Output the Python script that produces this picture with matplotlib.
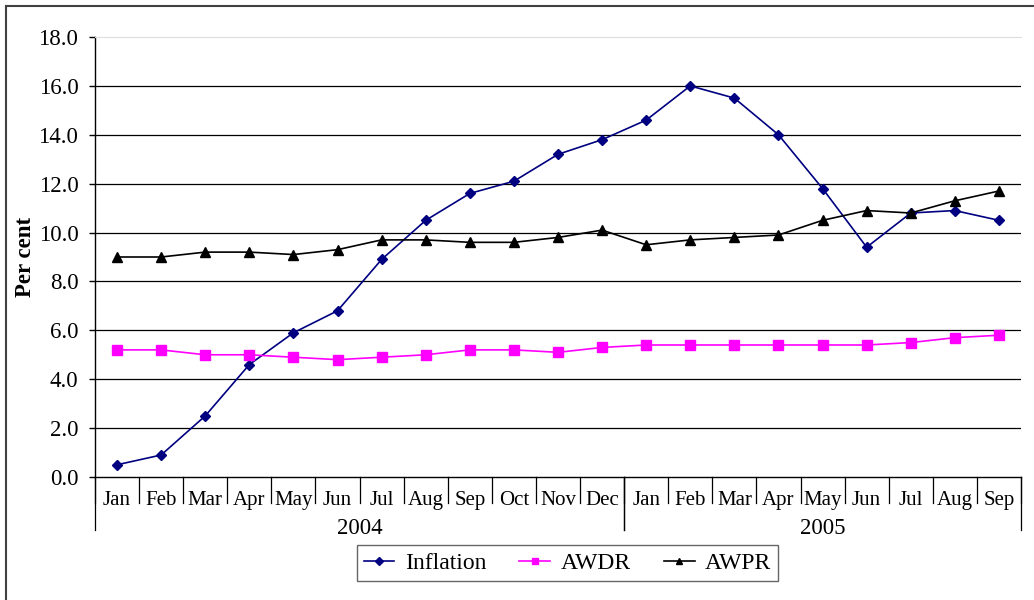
import matplotlib.pyplot as plt
from matplotlib.lines import Line2D

# Datos
months = ['Jan', 'Feb', 'Mar', 'Apr', 'May', 'Jun', 'Jul', 'Aug', 'Sep', 'Oct', 'Nov', 'Dec',
          'Jan', 'Feb', 'Mar', 'Apr', 'May', 'Jun', 'Jul', 'Aug', 'Sep']
years = ['2004', '2005']
year_months = [12, 9]

inflation = [0.5, 0.9, 2.5, 4.6, 5.9, 6.8, 8.9, 10.5, 11.6, 12.1, 13.2, 13.8,
             14.6, 16.0, 15.5, 14.0, 11.8, 9.4, 10.8, 10.9, 10.5]
awdr = [5.2, 5.2, 5.0, 5.0, 4.9, 4.8, 4.9, 5.0, 5.2, 5.2, 5.1, 5.3,
        5.4, 5.4, 5.4, 5.4, 5.4, 5.4, 5.5, 5.7, 5.8]
awpr = [9.0, 9.0, 9.2, 9.2, 9.1, 9.3, 9.7, 9.7, 9.6, 9.6, 9.8, 10.1,
        9.5, 9.7, 9.8, 9.9, 10.5, 10.9, 10.8, 11.3, 11.7]

plt.rcParams['font.family'] = ['Liberation Serif', 'DejaVu Serif']

fig = plt.figure(figsize=(10.34, 6.0), dpi=100)
ax = fig.add_axes([95 / 1034, 1 - 477 / 600, 926 / 1034, 440 / 600])

x = list(range(len(months)))

# Líneas de rejilla horizontales
for v in range(2, 18, 2):
    ax.axhline(v, color='black', lw=0.9, zorder=1)

ax.plot(x, inflation, color='#000080', marker='D', markersize=5.5, lw=1.2, label='Inflation', zorder=3)
ax.plot(x, awdr, color='#FF00FF', marker='s', markersize=6.5, lw=1.2, label='AWDR', zorder=3)
ax.plot(x, awpr, color='black', marker='^', markersize=7, lw=1.2, label='AWPR', zorder=3)

ax.set_xlim(-0.5, len(months) - 0.5)
ax.set_ylim(0, 18)
ax.set_yticks(range(0, 19, 2))
ax.set_yticklabels([f'{v:.1f}' for v in range(0, 19, 2)], fontsize=16.5)
ax.tick_params(axis='y', direction='out', length=4, width=1, pad=8)

ax.set_xticks(x)
ax.set_xticklabels(months, fontsize=15)
ax.tick_params(axis='x', length=0, pad=10)

ax.spines['right'].set_visible(False)
ax.spines['top'].set_color('#dddddd')
ax.spines['left'].set_linewidth(1)
ax.spines['bottom'].set_linewidth(1)

ax.set_ylabel('Per cent', fontsize=16.5, fontweight='bold', labelpad=2)

# Separadores del eje x (meses y años)
trans = ax.get_xaxis_transform()
for i in range(len(months) + 1):
    ax.add_line(Line2D([i - 0.5, i - 0.5], [0, -0.059], transform=trans,
                       color='black', lw=0.9, clip_on=False))
start = 0
for yr, n in zip(years, year_months):
    for b in (start, start + n):
        ax.add_line(Line2D([b - 0.5, b - 0.5], [0, -0.1205], transform=trans,
                           color='black', lw=0.9, clip_on=False))
    ax.text(start + (n - 1) / 2, -0.118, yr, transform=trans, ha='center', va='center', fontsize=16.5)
    start += n

leg = ax.legend(loc='center', bbox_to_anchor=(567.5 / 1034, 1 - 563 / 600),
                bbox_transform=fig.transFigure, ncol=3, fontsize=17, frameon=True,
                fancybox=False, edgecolor='#404040', handlelength=1.3, columnspacing=1.4,
                handletextpad=0.45, borderpad=0.3, borderaxespad=0, markerscale=0.7)
leg.get_frame().set_linewidth(1)

# Marco exterior del gráfico
fig.add_artist(Line2D([6 / 1034, 1], [1 - 6 / 600, 1 - 6 / 600], transform=fig.transFigure,
                      color='#404040', lw=1.5))
fig.add_artist(Line2D([6 / 1034, 6 / 1034], [0, 1 - 6 / 600], transform=fig.transFigure,
                      color='#404040', lw=1.5))

fig.savefig('out.png', dpi=100)
